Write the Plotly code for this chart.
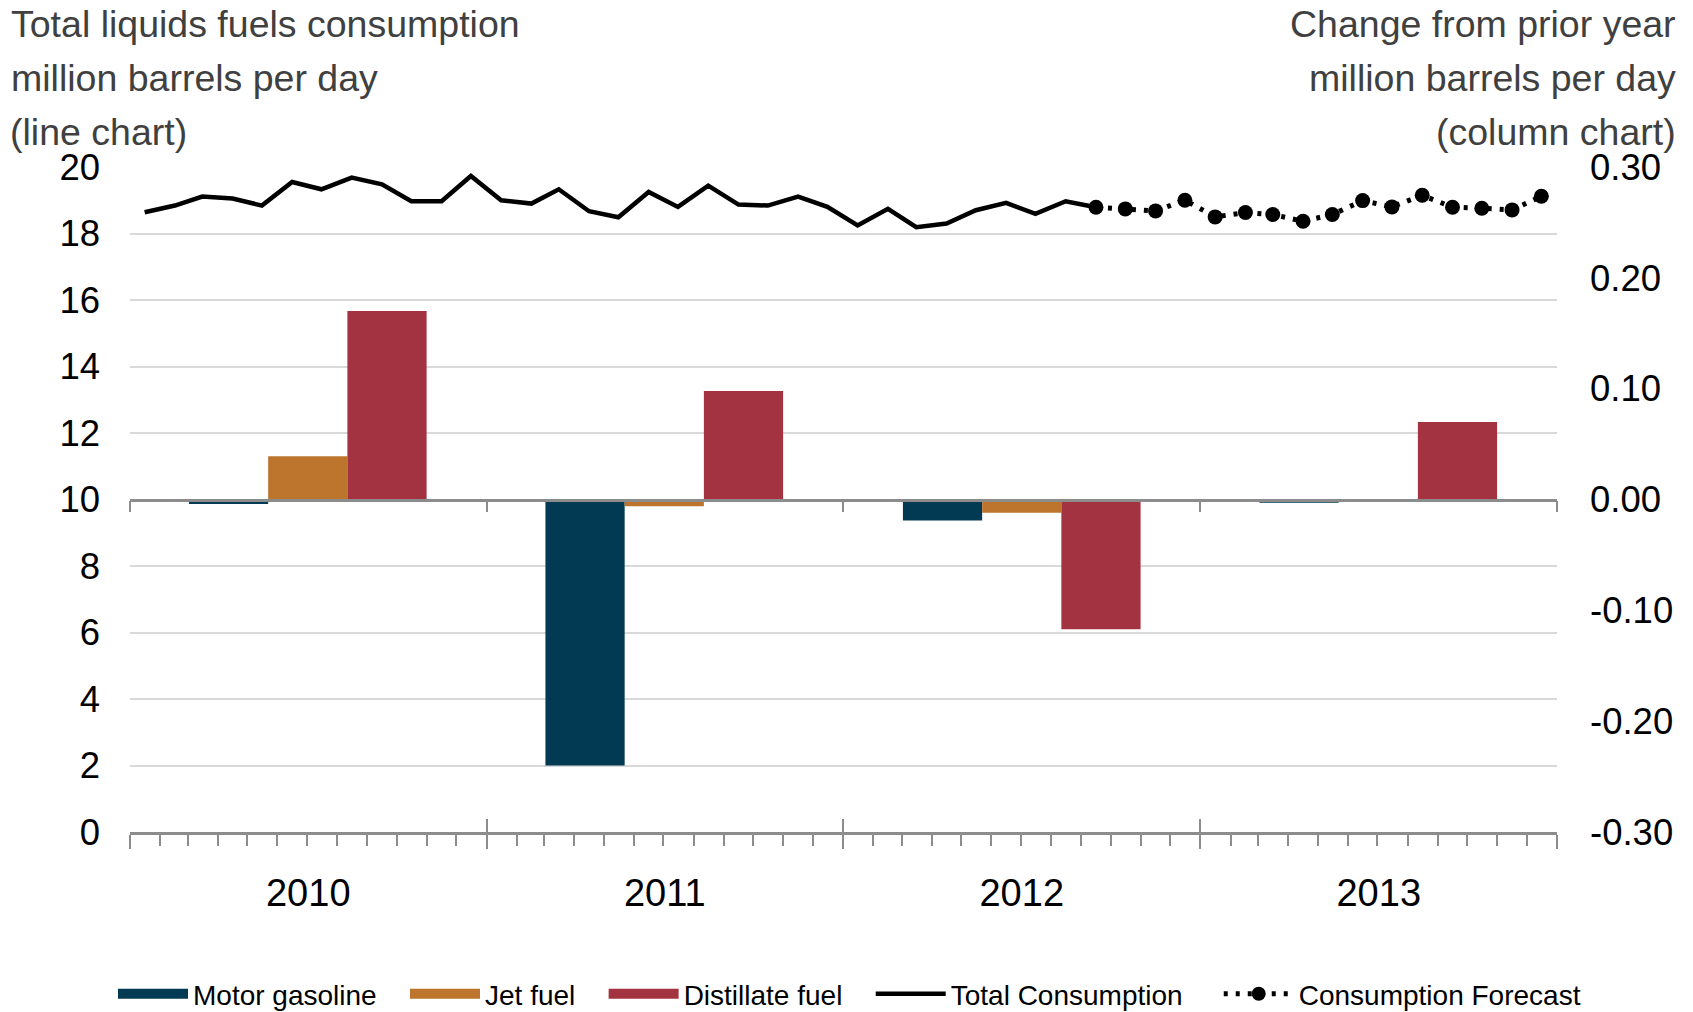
import plotly.graph_objects as go

# ---------------- data ----------------
years = ["2010", "2011", "2012", "2013"]
year_mid = ["2010-07-02", "2011-07-02", "2012-07-02", "2013-07-02"]
motor_gasoline = [-0.004, -0.240, -0.019, -0.003]
jet_fuel = [0.039, -0.006, -0.012, -0.001]
distillate_fuel = [0.170, 0.098, -0.117, 0.070]

months = [f"{y}-{m:02d}-16" for y in (2010, 2011, 2012, 2013) for m in range(1, 13)]
total_actual = [
    18.64, 18.84, 19.11, 19.05, 18.84, 19.55, 19.33, 19.68, 19.48, 18.97, 18.97, 19.73,
    19.00, 18.90, 19.33, 18.67, 18.49, 19.25, 18.80, 19.44, 18.87, 18.84, 19.11, 18.80,
    18.24, 18.74, 18.19, 18.30, 18.70, 18.92, 18.59, 18.97, 18.79,
]
total_forecast = [
    18.79, 18.74, 18.68, 19.00, 18.50, 18.63, 18.57, 18.37,
    18.57, 18.99, 18.80, 19.15, 18.79, 18.76, 18.71, 19.12,
]
months_actual = months[:len(total_actual)]
months_forecast = months[len(total_actual) - 1:]

left_ticks = [0, 2, 4, 6, 8, 10, 12, 14, 16, 18, 20]
right_tickvals = [-0.3, -0.2, -0.1, 0.0, 0.1, 0.2, 0.3]
right_ticktext = ["-0.30", "-0.20", "-0.10", "0.00", "0.10", "0.20", "0.30"]

C_MOTOR = "#013A52"
C_JET = "#BD742D"
C_DIST = "#A33341"
GRID = "#D9D9D9"
AXIS = "#8C8C8C"
FONT = "Liberation Sans, Arial, sans-serif"
NB = "\u00a0\u00a0\u00a0"  # spacing after legend labels

# page body has an 8px margin; figure coordinates = screen - 8
W, H = 1693, 1040
L, T = 122, 159
PLOT_RIGHT, PLOT_BOTTOM = 1549, 824
R, B = W - PLOT_RIGHT, H - PLOT_BOTTOM
PW, PH = PLOT_RIGHT - L, PLOT_BOTTOM - T


def px(x):
    return (x - L) / PW


def py(y):
    return (PLOT_BOTTOM - y) / PH


fig = go.Figure()

for name, vals, col in [("Motor gasoline", motor_gasoline, C_MOTOR),
                        ("Jet fuel", jet_fuel, C_JET),
                        ("Distillate fuel", distillate_fuel, C_DIST)]:
    fig.add_trace(go.Bar(x=year_mid, y=vals, name=name, marker=dict(color=col, line=dict(width=0)),
                         yaxis="y2", showlegend=False, legendgroup=name))

fig.add_trace(go.Scatter(x=months_actual, y=total_actual, mode="lines", name="Total Consumption",
                         line=dict(color="black", width=4.5), showlegend=False,
                         legendgroup="total"))
fig.add_trace(go.Scatter(x=months_forecast, y=total_forecast, mode="lines+markers",
                         name="Consumption Forecast",
                         line=dict(color="black", width=5, dash="4px,8px"),
                         marker=dict(color="black", size=15), showlegend=False,
                         legendgroup="fc"))

# legend entries
for name, col in [("Motor gasoline", C_MOTOR), ("Jet fuel", C_JET), ("Distillate fuel", C_DIST)]:
    fig.add_trace(go.Scatter(x=[None], y=[None], mode="lines", name=name + NB, legendgroup=name,
                             line=dict(color=col, width=15)))
fig.add_trace(go.Scatter(x=[None], y=[None], mode="lines", name="Total Consumption" + NB + "\u00a0",
                         legendgroup="total", line=dict(color="black", width=4.5)))
fig.add_trace(go.Scatter(x=[None], y=[None], mode="lines+markers", name="Consumption Forecast",
                         legendgroup="fc", line=dict(color="black", width=5, dash="4px,8px"),
                         marker=dict(color="black", size=14)))

xrange = ["2010-01-01", "2014-01-01"]

annotations = []
left_lines = ["Total liquids fuels consumption", "million barrels per day", "(line chart)"]
right_lines = ["Change from prior year", "million barrels per day", "(column chart)"]
for i, (lt, rt) in enumerate(zip(left_lines, right_lines)):
    yc = 16 + i * 54
    annotations.append(dict(text=lt, x=px(1.5), y=py(yc), xref="paper", yref="paper",
                            xanchor="left", yanchor="middle", showarrow=False, borderpad=0,
                            font=dict(size=37.5, color="#404040", family=FONT)))
    annotations.append(dict(text=rt, x=px(1668.5), y=py(yc), xref="paper", yref="paper",
                            xanchor="right", yanchor="middle", showarrow=False, borderpad=0,
                            font=dict(size=37.5, color="#404040", family=FONT)))

fig.update_layout(
    width=W, height=H,
    margin=dict(l=L, r=R, t=T, b=B),
    paper_bgcolor="white", plot_bgcolor="white",
    font=dict(family=FONT, color="black", size=36),
    barmode="group", bargap=1 / 3, bargroupgap=0,
    showlegend=True,
    legend=dict(orientation="h", x=px(105), xanchor="left",
                y=py(986), yanchor="middle",
                font=dict(size=28, color="black", family=FONT), itemwidth=70,
                traceorder="normal"),
    annotations=annotations,
    xaxis=dict(
        type="date", range=xrange, tick0="2010-01-01", dtick="M12",
        ticklabelmode="period", tickformat="%Y",
        showline=True, linecolor=AXIS, linewidth=2.5,
        ticks="outside", ticklen=14, tickwidth=2, tickcolor=AXIS,
        minor=dict(ticks="outside", dtick="M1", tick0="2010-01-01", ticklen=11,
                   tickwidth=2, tickcolor=AXIS, showgrid=False),
        showgrid=False, zeroline=False,
        tickfont=dict(size=38, color="black"), ticklabelstandoff=12,
    ),
    xaxis2=dict(
        type="date", range=xrange, overlaying="x", anchor="free", position=0.5,
        tick0="2010-01-01", dtick="M12", showticklabels=False,
        showline=True, linecolor=AXIS, linewidth=2.5,
        ticks="outside", ticklen=11, tickwidth=2, tickcolor=AXIS,
        showgrid=False, zeroline=False,
    ),
    xaxis3=dict(
        type="date", range=xrange, overlaying="x", anchor="free", position=0,
        tick0="2010-01-01", dtick="M12", showticklabels=False, showline=False,
        ticks="inside", ticklen=13, tickwidth=2, tickcolor=AXIS,
        showgrid=False, zeroline=False,
    ),
    yaxis=dict(
        range=[0, 20], tickvals=left_ticks, showgrid=True, gridcolor=GRID, gridwidth=2,
        zeroline=False, showline=False, ticks="", ticklabelstandoff=29,
        tickfont=dict(size=36.5, color="black"),
    ),
    yaxis2=dict(
        range=[-0.3, 0.3], overlaying="y", side="right", tickvals=right_tickvals,
        ticktext=right_ticktext, showgrid=False, zeroline=False, showline=False, ticks="",
        ticklabelstandoff=32, tickfont=dict(size=36.5, color="black"),
    ),
)

# dummy traces so xaxis2 / xaxis3 get drawn
fig.add_trace(go.Scatter(x=[None], y=[None], xaxis="x2", showlegend=False, hoverinfo="skip"))
fig.add_trace(go.Scatter(x=[None], y=[None], xaxis="x3", showlegend=False, hoverinfo="skip"))

fig.write_html("out.html")
